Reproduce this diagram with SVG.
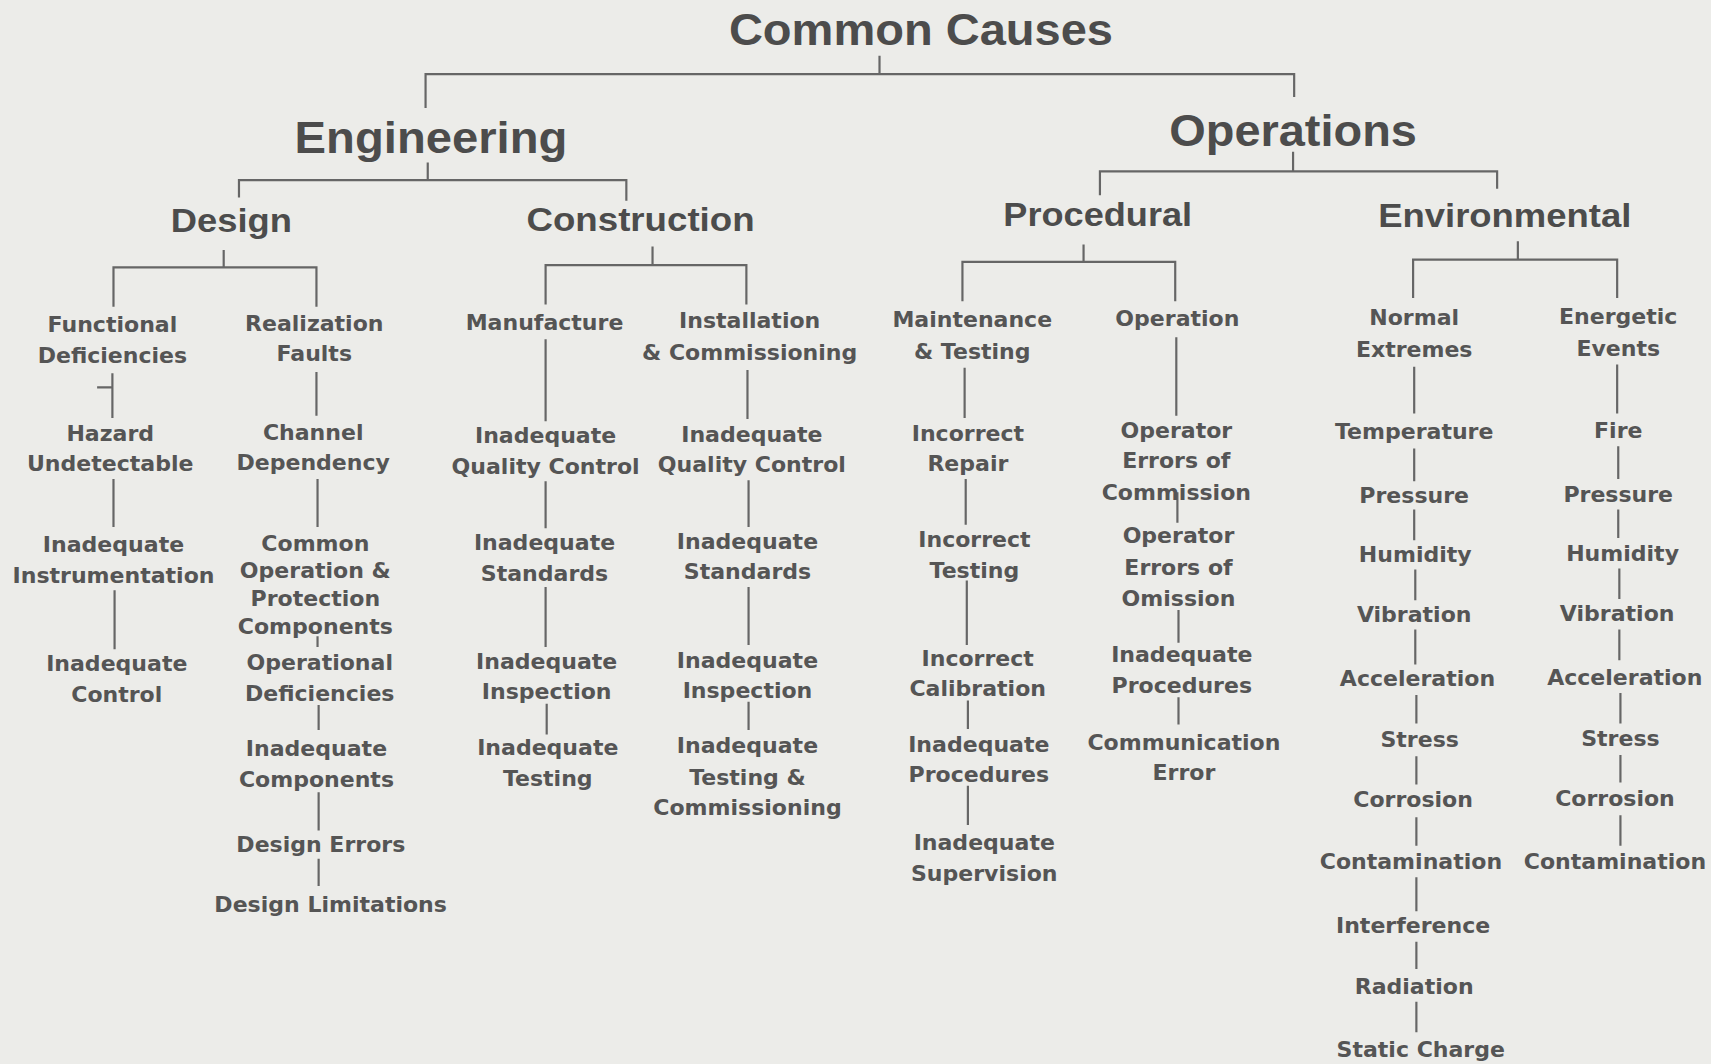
<svg xmlns="http://www.w3.org/2000/svg" width="1711" height="1064" viewBox="0 0 1711 1064">
  <style>
    .bg { fill: #ecece9; }
    .link { fill: none; stroke: #666; stroke-width: 2; stroke-linecap: square; }
    .head { font-family: "Liberation Sans", Arial, sans-serif; font-weight: bold; fill: #4c4c4c; text-anchor: middle; }
    .h1 { font-size: 40px; }
    .h2 { font-size: 31px; }
    .leaf { font-family: "DejaVu Sans", "Liberation Sans", sans-serif; font-weight: bold; font-size: 20.2px; fill: #555; text-anchor: middle; }
  </style>
  <rect class="bg" x="0" y="0" width="1711" height="1064"/>

  <!-- layout drawn on a 1568-wide grid, scaled up to the page -->
  <g transform="scale(1.0912)">

    <g id="connectors" class="link">
      <!-- upper tree -->
      <path d="M806 52 V68 M390 98 V68 H1186 V88"/>
      <path d="M392 150 V165 M219 180 V165 H574 V183"/>
      <path d="M1185 140 V157 M1008 178 V157 H1372 V172"/>
      <path d="M205 230 V245 M104 280 V245 H290 V280"/>
      <path d="M598 227 V243 M500 278 V243 H684 V278"/>
      <path d="M993 225 V240 M882 275 V240 H1077 V275"/>
      <path d="M1391 222 V238 M1295 272 V238 H1482 V272"/>
      <!-- design: functional deficiencies chain -->
      <path d="M103 343 V382 M90 355 H101 M104 440 V482 M105 542 V594"/>
      <!-- design: realization faults chain -->
      <path d="M290 342 V380 M291 440 V482 M291 584 V592 M292 647 V668 M292 727 V760 M292 788 V811"/>
      <!-- construction: manufacture chain -->
      <path d="M500 312 V385 M500 442 V483 M500 539 V592 M501 646 V672"/>
      <!-- construction: installation chain -->
      <path d="M685 340 V383 M686 441 V482 M686 539 V590 M686 644 V668"/>
      <!-- procedural: maintenance chain -->
      <path d="M884 338 V382 M885 440 V480 M886 533 V590 M887 643 V667 M887 721 V755"/>
      <!-- procedural: operation chain -->
      <path d="M1078 310 V380 M1079 452 V478 M1080 560 V588 M1080 640 V663"/>
      <!-- environmental: normal extremes chain -->
      <path d="M1296 337 V378 M1296 412 V440 M1296 468 V494 M1297 523 V549 M1297 578 V608 M1298 638 V662 M1298 694 V718 M1298 750 V774 M1298 805 V834 M1298 864 V887 M1298 919 V945"/>
      <!-- environmental: energetic events chain -->
      <path d="M1482 335 V378 M1483 410 V438 M1483 468 V492 M1484 522 V548 M1484 578 V604 M1485 636 V662 M1485 693 V716 M1485 748 V774"/>
    </g>

    <!-- headings -->
    <g id="common-causes"><text class="head h1" x="844" y="41" textLength="352" lengthAdjust="spacingAndGlyphs">Common Causes</text></g>
    <g id="engineering"><text class="head h1" x="395" y="140" textLength="250" lengthAdjust="spacingAndGlyphs">Engineering</text></g>
    <g id="operations"><text class="head h1" x="1185" y="134" textLength="227" lengthAdjust="spacingAndGlyphs">Operations</text></g>
    <g id="design"><text class="head h2" x="212" y="213" textLength="111" lengthAdjust="spacingAndGlyphs">Design</text></g>
    <g id="construction"><text class="head h2" x="587" y="212" textLength="209" lengthAdjust="spacingAndGlyphs">Construction</text></g>
    <g id="procedural"><text class="head h2" x="1006" y="207" textLength="173" lengthAdjust="spacingAndGlyphs">Procedural</text></g>
    <g id="environmental"><text class="head h2" x="1379" y="208" textLength="232" lengthAdjust="spacingAndGlyphs">Environmental</text></g>

    <!-- design branch -->
    <g id="functional-deficiencies"><text class="leaf"><tspan x="103" y="304">Functional</tspan><tspan x="103" y="333">Deficiencies</tspan></text></g>
    <g id="hazard-undetectable"><text class="leaf"><tspan x="101" y="404">Hazard</tspan><tspan x="101" y="432">Undetectable</tspan></text></g>
    <g id="inadequate-instrumentation"><text class="leaf"><tspan x="104" y="506">Inadequate</tspan><tspan x="104" y="534">Instrumentation</tspan></text></g>
    <g id="inadequate-control"><text class="leaf"><tspan x="107" y="615">Inadequate</tspan><tspan x="107" y="643">Control</tspan></text></g>

    <g id="realization-faults"><text class="leaf"><tspan x="288" y="303">Realization</tspan><tspan x="288" y="331">Faults</tspan></text></g>
    <g id="channel-dependency"><text class="leaf"><tspan x="287" y="403">Channel</tspan><tspan x="287" y="431">Dependency</tspan></text></g>
    <g id="common-operation-protection"><text class="leaf"><tspan x="289" y="505">Common</tspan><tspan x="289" y="530">Operation &amp;</tspan><tspan x="289" y="555">Protection</tspan><tspan x="289" y="581">Components</tspan></text></g>
    <g id="operational-deficiencies"><text class="leaf"><tspan x="293" y="614">Operational</tspan><tspan x="293" y="642">Deficiencies</tspan></text></g>
    <g id="inadequate-components"><text class="leaf"><tspan x="290" y="693">Inadequate</tspan><tspan x="290" y="721">Components</tspan></text></g>
    <g id="design-errors"><text class="leaf" x="294" y="781">Design Errors</text></g>
    <g id="design-limitations"><text class="leaf" x="303" y="836">Design Limitations</text></g>

    <!-- construction branch -->
    <g id="manufacture"><text class="leaf" x="499" y="302">Manufacture</text></g>
    <g id="mfg-quality-control"><text class="leaf"><tspan x="500" y="406">Inadequate</tspan><tspan x="500" y="434">Quality Control</tspan></text></g>
    <g id="mfg-standards"><text class="leaf"><tspan x="499" y="504">Inadequate</tspan><tspan x="499" y="532">Standards</tspan></text></g>
    <g id="mfg-inspection"><text class="leaf"><tspan x="501" y="613">Inadequate</tspan><tspan x="501" y="641">Inspection</tspan></text></g>
    <g id="mfg-testing"><text class="leaf"><tspan x="502" y="692">Inadequate</tspan><tspan x="502" y="720">Testing</tspan></text></g>

    <g id="installation-commissioning"><text class="leaf"><tspan x="687" y="301">Installation</tspan><tspan x="687" y="330">&amp; Commissioning</tspan></text></g>
    <g id="inst-quality-control"><text class="leaf"><tspan x="689" y="405">Inadequate</tspan><tspan x="689" y="433">Quality Control</tspan></text></g>
    <g id="inst-standards"><text class="leaf"><tspan x="685" y="503">Inadequate</tspan><tspan x="685" y="531">Standards</tspan></text></g>
    <g id="inst-inspection"><text class="leaf"><tspan x="685" y="612">Inadequate</tspan><tspan x="685" y="640">Inspection</tspan></text></g>
    <g id="inst-testing-commissioning"><text class="leaf"><tspan x="685" y="690">Inadequate</tspan><tspan x="685" y="719">Testing &amp;</tspan><tspan x="685" y="747">Commissioning</tspan></text></g>

    <!-- procedural branch -->
    <g id="maintenance-testing"><text class="leaf"><tspan x="891" y="300">Maintenance</tspan><tspan x="891" y="329">&amp; Testing</tspan></text></g>
    <g id="incorrect-repair"><text class="leaf"><tspan x="887" y="404">Incorrect</tspan><tspan x="887" y="432">Repair</tspan></text></g>
    <g id="incorrect-testing"><text class="leaf"><tspan x="893" y="501">Incorrect</tspan><tspan x="893" y="530">Testing</tspan></text></g>
    <g id="incorrect-calibration"><text class="leaf"><tspan x="896" y="610">Incorrect</tspan><tspan x="896" y="638">Calibration</tspan></text></g>
    <g id="maint-procedures"><text class="leaf"><tspan x="897" y="689">Inadequate</tspan><tspan x="897" y="717">Procedures</tspan></text></g>
    <g id="inadequate-supervision"><text class="leaf"><tspan x="902" y="779">Inadequate</tspan><tspan x="902" y="807">Supervision</tspan></text></g>

    <g id="operation"><text class="leaf" x="1079" y="299">Operation</text></g>
    <g id="errors-of-commission"><text class="leaf"><tspan x="1078" y="401">Operator</tspan><tspan x="1078" y="429">Errors of</tspan><tspan x="1078" y="458">Commission</tspan></text></g>
    <g id="errors-of-omission"><text class="leaf"><tspan x="1080" y="498">Operator</tspan><tspan x="1080" y="527">Errors of</tspan><tspan x="1080" y="555">Omission</tspan></text></g>
    <g id="op-procedures"><text class="leaf"><tspan x="1083" y="607">Inadequate</tspan><tspan x="1083" y="635">Procedures</tspan></text></g>
    <g id="communication-error"><text class="leaf"><tspan x="1085" y="687">Communication</tspan><tspan x="1085" y="715">Error</tspan></text></g>

    <!-- environmental branch: normal extremes -->
    <g id="normal-extremes"><text class="leaf"><tspan x="1296" y="298">Normal</tspan><tspan x="1296" y="327">Extremes</tspan></text></g>
    <g id="ne-temperature"><text class="leaf" x="1296" y="402">Temperature</text></g>
    <g id="ne-pressure"><text class="leaf" x="1296" y="461">Pressure</text></g>
    <g id="ne-humidity"><text class="leaf" x="1297" y="515">Humidity</text></g>
    <g id="ne-vibration"><text class="leaf" x="1296" y="570">Vibration</text></g>
    <g id="ne-acceleration"><text class="leaf" x="1299" y="629">Acceleration</text></g>
    <g id="ne-stress"><text class="leaf" x="1301" y="685">Stress</text></g>
    <g id="ne-corrosion"><text class="leaf" x="1295" y="740">Corrosion</text></g>
    <g id="ne-contamination"><text class="leaf" x="1293" y="796">Contamination</text></g>
    <g id="ne-interference"><text class="leaf" x="1295" y="855">Interference</text></g>
    <g id="ne-radiation"><text class="leaf" x="1296" y="911">Radiation</text></g>
    <g id="ne-static-charge"><text class="leaf" x="1302" y="969">Static Charge</text></g>

    <!-- environmental branch: energetic events -->
    <g id="energetic-events"><text class="leaf"><tspan x="1483" y="297">Energetic</tspan><tspan x="1483" y="326">Events</tspan></text></g>
    <g id="ee-fire"><text class="leaf" x="1483" y="401">Fire</text></g>
    <g id="ee-pressure"><text class="leaf" x="1483" y="460">Pressure</text></g>
    <g id="ee-humidity"><text class="leaf" x="1487" y="514">Humidity</text></g>
    <g id="ee-vibration"><text class="leaf" x="1482" y="569">Vibration</text></g>
    <g id="ee-acceleration"><text class="leaf" x="1489" y="628">Acceleration</text></g>
    <g id="ee-stress"><text class="leaf" x="1485" y="684">Stress</text></g>
    <g id="ee-corrosion"><text class="leaf" x="1480" y="739">Corrosion</text></g>
    <g id="ee-contamination"><text class="leaf" x="1480" y="796">Contamination</text></g>
  </g>
</svg>
